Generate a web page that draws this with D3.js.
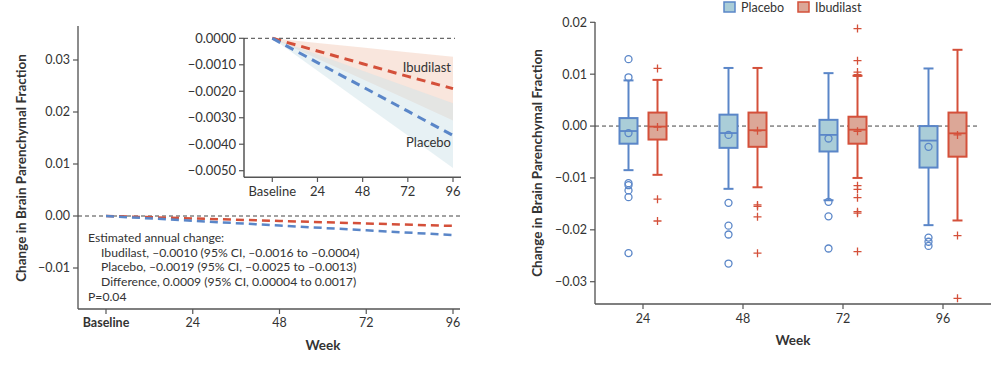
<!DOCTYPE html>
<html><head><meta charset="utf-8">
<script src="https://cdn.jsdelivr.net/npm/d3@7"></script>
<style>
body{margin:0;background:#fff;}
svg{font-family:Lato,"Open Sans",sans-serif;}
</style></head>
<body><svg id="c" width="1008" height="368"></svg>
<script>
// ---------- DATA ----------
const weeks = [0, 24, 48, 72, 96];
const weekLabels = ["Baseline", "24", "48", "72", "96"];
const ibudilastMean = [0, -0.00048, -0.00096, -0.00144, -0.0019];
const ibudilastLow  = [0, -0.000775, -0.00155, -0.002325, -0.0031];
const ibudilastHigh = [0, -0.000175, -0.00035, -0.000525, -0.0007];
const placeboMean   = [0, -0.0009175, -0.001835, -0.0027525, -0.00367];
const placeboLow    = [0, -0.001225, -0.00245, -0.003675, -0.0049];
const placeboHigh   = [0, -0.0006125, -0.001225, -0.0018375, -0.00245];
const mainYTicks = [-0.01, 0.00, 0.01, 0.02, 0.03];
const insetYTicks = [0, -0.001, -0.002, -0.003, -0.004, -0.005];
const annotation = [
  "Estimated annual change:",
  "Ibudilast, \u20130.0010 (95% CI, \u20130.0016 to \u20130.0004)",
  "Placebo, \u20130.0019 (95% CI, \u20130.0025 to \u20130.0013)",
  "Difference, 0.0009 (95% CI, 0.00004 to 0.0017)",
  "P=0.04"
];
const boxWeeks = ["24", "48", "72", "96"];
const boxYTicks = [-0.03, -0.02, -0.01, 0.00, 0.01, 0.02];
// per week: [whiskerLow, Q1, median, Q3, whiskerHigh, mean]
const placeboBox = [
  [-0.0085, -0.0034, -0.00096, 0.00154, 0.0088, -0.00135],
  [-0.0121, -0.0042, -0.00135, 0.0022, 0.0112, -0.0017],
  [-0.0143, -0.0049, -0.0017, 0.0012, 0.0102, -0.0024],
  [-0.0191, -0.0080, -0.0028, 0.0000, 0.0111, -0.0040]
];
const ibudilastBox = [
  [-0.0094, -0.0026, -0.0001, 0.0026, 0.0089, -0.0002],
  [-0.0118, -0.0040, -0.0008, 0.0026, 0.0112, -0.0009],
  [-0.0100, -0.0034, -0.0007, 0.0018, 0.0097, -0.0010],
  [-0.0182, -0.0059, -0.0014, 0.0026, 0.0147, -0.0017]
];
const placeboOutliers = [
  [0.0129, 0.0094, -0.0110, -0.0114, -0.0124, -0.0137, -0.0245],
  [-0.0148, -0.0192, -0.0209, -0.0265],
  [-0.0146, -0.0174, -0.0236],
  [-0.0215, -0.0223, -0.0231]
];
const ibudilastOutliers = [
  [0.0111, -0.0141, -0.0183],
  [-0.0152, -0.0155, -0.0175, -0.0245],
  [0.0188, 0.0126, 0.0104, 0.0099, 0.0096, -0.0115, -0.0122, -0.0138, -0.0165, -0.0168, -0.0242],
  [-0.0211, -0.0332]
];

// ---------- STYLE ----------
const RED = "#d4503a", BLUE = "#5a86c8";
const RED_FILL = "#dca797", BLUE_FILL = "#aacdd8";
const AX = "#555";
const svg = d3.select("#c");
const fmtMinus = s => s.replace("-", "\u2013");

// ---------- LEFT MAIN ----------
const xL = d3.scaleLinear().domain([0, 96]).range([106, 453]);
const yL = d3.scaleLinear().domain([-0.01, 0.03]).range([268, 60]);
const L = svg.append("g");
L.append("line").attr("x1", 78).attr("x2", 78).attr("y1", 26).attr("y2", 309).attr("stroke", "#666").attr("stroke-width", 1.5);
L.append("line").attr("x1", 78).attr("x2", 460).attr("y1", 309).attr("y2", 309).attr("stroke", AX).attr("stroke-width", 1.5);
mainYTicks.forEach(t => {
  L.append("line").attr("x1", 73).attr("x2", 78).attr("y1", yL(t)).attr("y2", yL(t)).attr("stroke", AX).attr("stroke-width", 1.2);
  L.append("text").attr("x", 70).attr("y", yL(t)).attr("dy", "0.35em").attr("text-anchor", "end")
    .attr("font-size", 12.5).attr("fill", "#333").text(fmtMinus(d3.format(".2f")(t)));
});
weeks.forEach((w, i) => {
  L.append("line").attr("x1", xL(w)).attr("x2", xL(w)).attr("y1", 309).attr("y2", 314).attr("stroke", AX).attr("stroke-width", 1.2);
  L.append("text").attr("x", xL(w)).attr("y", 327).attr("text-anchor", "middle").attr("font-size", 12.5)
    .attr("font-weight", i === 0 ? "bold" : "normal").attr("fill", "#333").text(weekLabels[i]);
});
L.append("line").attr("x1", 78).attr("x2", 460).attr("y1", yL(0)).attr("y2", yL(0)).attr("stroke", "#444").attr("stroke-dasharray", "4,3");
const lineL = d3.line().x((d, i) => xL(weeks[i])).y(d => yL(d));
L.append("path").attr("d", lineL(ibudilastMean)).attr("fill", "none").attr("stroke", RED).attr("stroke-width", 2.5).attr("stroke-dasharray", "8,5");
L.append("path").attr("d", lineL(placeboMean)).attr("fill", "none").attr("stroke", BLUE).attr("stroke-width", 2.5).attr("stroke-dasharray", "8,5");
const annY = [242, 257, 271, 286, 301];
annotation.forEach((s, i) => {
  L.append("text").attr("x", (i === 0 || i === 4) ? 88 : 101).attr("y", annY[i]).attr("font-size", 12.2).attr("fill", "#333").text(s);
});
L.append("text").attr("transform", "translate(26,168) rotate(-90)").attr("text-anchor", "middle")
  .attr("font-size", 13.5).attr("font-weight", "bold").attr("fill", "#333").text("Change in Brain Parenchymal Fraction");
L.append("text").attr("x", 323).attr("y", 350).attr("text-anchor", "middle").attr("font-size", 13.5).attr("font-weight", "bold").attr("fill", "#333").text("Week");

// ---------- INSET ----------
const xI = d3.scaleLinear().domain([0, 96]).range([272.3, 453]);
const yI = d3.scaleLinear().domain([-0.005, 0]).range([170.7, 38.3]);
const I = svg.append("g");
const area = (lo, hi) => d3.area().x((d, i) => xI(weeks[i])).y0((d, i) => yI(lo[i])).y1((d, i) => yI(hi[i]))(weeks);
I.append("path").attr("d", area(ibudilastLow, ibudilastHigh)).attr("fill", "#f3cdbb").attr("fill-opacity", 0.5);
I.append("path").attr("d", area(placeboLow, placeboHigh)).attr("fill", "#cfe3ea").attr("fill-opacity", 0.5);
I.append("line").attr("x1", 244).attr("x2", 244).attr("y1", 38).attr("y2", 177.3).attr("stroke", AX).attr("stroke-width", 1.5);
I.append("line").attr("x1", 244).attr("x2", 461).attr("y1", 177.3).attr("y2", 177.3).attr("stroke", AX).attr("stroke-width", 1.5);
I.append("line").attr("x1", 244).attr("x2", 455).attr("y1", yI(0)).attr("y2", yI(0)).attr("stroke", "#444").attr("stroke-dasharray", "4,3");
insetYTicks.forEach(t => {
  I.append("line").attr("x1", 239).attr("x2", 244).attr("y1", yI(t)).attr("y2", yI(t)).attr("stroke", AX).attr("stroke-width", 1.2);
  I.append("text").attr("x", 236).attr("y", yI(t)).attr("dy", "0.35em").attr("text-anchor", "end")
    .attr("font-size", 13).attr("fill", "#333").text(fmtMinus(d3.format(".4f")(t)));
});
weeks.forEach((w, i) => {
  I.append("line").attr("x1", xI(w)).attr("x2", xI(w)).attr("y1", 177.3).attr("y2", 182).attr("stroke", AX).attr("stroke-width", 1.2);
  I.append("text").attr("x", xI(w)).attr("y", 196).attr("text-anchor", "middle").attr("font-size", 13).attr("fill", "#333").text(weekLabels[i]);
});
const lineI = d3.line().x((d, i) => xI(weeks[i])).y(d => yI(d));
I.append("path").attr("d", lineI(ibudilastMean)).attr("fill", "none").attr("stroke", RED).attr("stroke-width", 3).attr("stroke-dasharray", "9,6");
I.append("path").attr("d", lineI(placeboMean)).attr("fill", "none").attr("stroke", BLUE).attr("stroke-width", 3).attr("stroke-dasharray", "9,6");
I.append("text").attr("x", 451).attr("y", 72).attr("text-anchor", "end").attr("font-size", 13).attr("fill", "#333").text("Ibudilast");
I.append("text").attr("x", 451).attr("y", 147).attr("text-anchor", "end").attr("font-size", 13).attr("fill", "#333").text("Placebo");

// ---------- RIGHT BOX PLOT ----------
const xR = d3.scalePoint().domain(boxWeeks).range([595, 991]).padding(0.48);
const yR = d3.scaleLinear().domain([-0.03, 0.02]).range([281.7, 22.3]);
const R = svg.append("g");
R.append("line").attr("x1", 595).attr("x2", 595).attr("y1", 22).attr("y2", 304).attr("stroke", "#666").attr("stroke-width", 1.5);
R.append("line").attr("x1", 595).attr("x2", 991).attr("y1", 304).attr("y2", 304).attr("stroke", AX).attr("stroke-width", 1.5);
boxYTicks.forEach(t => {
  R.append("line").attr("x1", 590).attr("x2", 595).attr("y1", yR(t)).attr("y2", yR(t)).attr("stroke", AX).attr("stroke-width", 1.2);
  R.append("text").attr("x", 587).attr("y", yR(t)).attr("dy", "0.35em").attr("text-anchor", "end")
    .attr("font-size", 12.5).attr("fill", "#333").text(fmtMinus(d3.format(".2f")(t)));
});
boxWeeks.forEach(w => {
  R.append("line").attr("x1", xR(w)).attr("x2", xR(w)).attr("y1", 304).attr("y2", 309).attr("stroke", AX).attr("stroke-width", 1.2);
  R.append("text").attr("x", xR(w)).attr("y", 323).attr("text-anchor", "middle").attr("font-size", 12.5).attr("fill", "#333").text(w);
});
R.append("line").attr("x1", 595).attr("x2", 978).attr("y1", yR(0)).attr("y2", yR(0)).attr("stroke", "#444").attr("stroke-dasharray", "4,3");

function drawBox(cx, s, fill, stroke, outliers, marker) {
  const [wl, q1, med, q3, wh, mean] = s;
  const bw = 18;
  const g = R.append("g");
  g.append("line").attr("x1", cx).attr("x2", cx).attr("y1", yR(wh)).attr("y2", yR(q3)).attr("stroke", stroke).attr("stroke-width", 2);
  g.append("line").attr("x1", cx).attr("x2", cx).attr("y1", yR(q1)).attr("y2", yR(wl)).attr("stroke", stroke).attr("stroke-width", 2);
  g.append("line").attr("x1", cx - 5).attr("x2", cx + 5).attr("y1", yR(wh)).attr("y2", yR(wh)).attr("stroke", stroke).attr("stroke-width", 2);
  g.append("line").attr("x1", cx - 5).attr("x2", cx + 5).attr("y1", yR(wl)).attr("y2", yR(wl)).attr("stroke", stroke).attr("stroke-width", 2);
  g.append("rect").attr("x", cx - bw / 2).attr("y", yR(q3)).attr("width", bw).attr("height", yR(q1) - yR(q3))
    .attr("fill", fill).attr("stroke", stroke).attr("stroke-width", 2);
  g.append("line").attr("x1", cx - bw / 2).attr("x2", cx + bw / 2).attr("y1", yR(med)).attr("y2", yR(med)).attr("stroke", stroke).attr("stroke-width", 1.8);
  const pts = outliers.concat([mean]);
  pts.forEach(v => {
    if (marker === "o") {
      g.append("circle").attr("cx", cx).attr("cy", yR(v)).attr("r", 3.5).attr("fill", "none").attr("stroke", stroke).attr("stroke-width", 1.3);
    } else {
      g.append("path").attr("d", `M${cx - 4},${yR(v)}H${cx + 4}M${cx},${yR(v) - 4}V${yR(v) + 4}`).attr("stroke", stroke).attr("stroke-width", 1.3);
    }
  });
}
boxWeeks.forEach((w, i) => {
  drawBox(xR(w) - 14.5, placeboBox[i], BLUE_FILL, BLUE, placeboOutliers[i], "o");
  drawBox(xR(w) + 14.5, ibudilastBox[i], RED_FILL, RED, ibudilastOutliers[i], "+");
});
const legend = [["Placebo", BLUE_FILL, BLUE, 724], ["Ibudilast", RED_FILL, RED, 798]];
legend.forEach(([lab, f, s, x]) => {
  R.append("rect").attr("x", x).attr("y", 2).attr("width", 11).attr("height", 10).attr("fill", f).attr("stroke", s).attr("stroke-width", 1.5);
  R.append("text").attr("x", x + 17).attr("y", 12).attr("font-size", 12.5).attr("fill", "#333").text(lab);
});
R.append("text").attr("transform", "translate(542,163) rotate(-90)").attr("text-anchor", "middle")
  .attr("font-size", 13.5).attr("font-weight", "bold").attr("fill", "#333").text("Change in Brain Parenchymal Fraction");
R.append("text").attr("x", 793).attr("y", 345).attr("text-anchor", "middle").attr("font-size", 13.5).attr("font-weight", "bold").attr("fill", "#333").text("Week");
</script></body></html>
